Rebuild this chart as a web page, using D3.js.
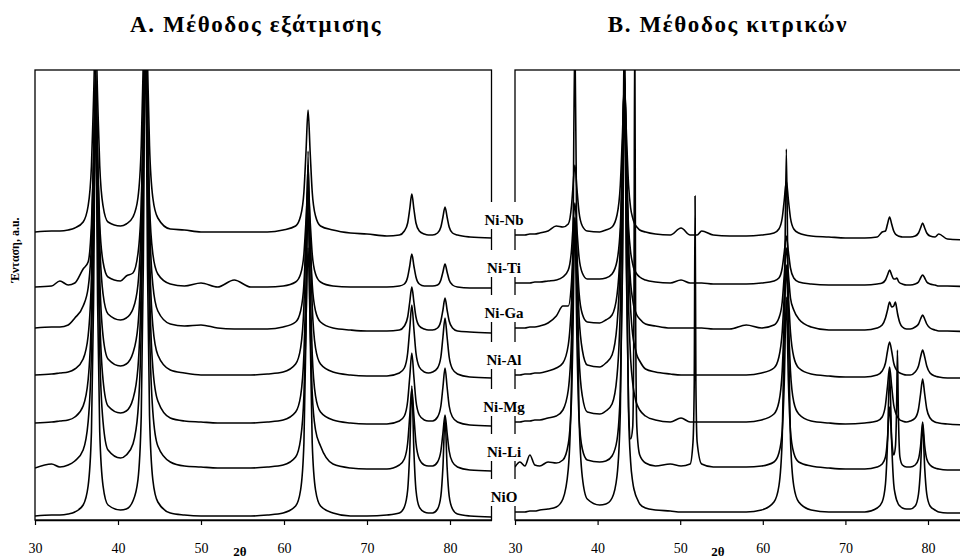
<!DOCTYPE html>
<html lang="el">
<head>
  <meta charset="UTF-8">
  <title>XRD</title>
  <script src="https://cdn.jsdelivr.net/npm/d3@7"></script>
  <style>
    body { margin: 0; background: #fff; }
    svg { display: block; font-family: "Liberation Serif", "Times New Roman", serif; }
  </style>
</head>
<body>
<script>
  // sample names, top to bottom
  const samples = ['Ni-Nb', 'Ni-Ti', 'Ni-Ga', 'Ni-Al', 'Ni-Mg', 'Ni-Li', 'NiO']
  const xTicks = [30, 40, 50, 60, 70, 80]
  const panelTitles = ['A. Μέθοδος εξάτμισης', 'B. Μέθοδος κιτρικών']

  // vertical offsets of each pattern (a.u.)
  const offsetsA = [288, 233, 192, 145, 97, 52, 4]
  const offsetsB = [285, 237, 192, 145, 98, 53, 8]

  // A: evaporation method, 2theta positions
  const thetaA = [30,32,33,34,34.8,35.8,36.4,36.8,37.05,37.3,
    37.55,37.8,38.2,38.8,40.3,41,41.8,42.4,42.8,43.05,
    43.3,43.55,43.8,44.2,44.8,46.3,48,50,52,54,
    56,58,59.9,61.4,62,62.4,62.65,62.9,63.15,63.4,
    63.8,64.4,65.9,68,70,72.4,73.9,74.5,74.9,75.15,
    75.4,75.65,75.9,76.3,76.9,77.4,77.9,78.5,78.9,79.15,
    79.4,79.65,79.9,80.3,80.9,82.4,85]

  const nbA = [0,1,1,2,4,10,26,66,132,200,
    132,66,26,10,6,8,15,34,86,172,
    260,172,86,34,14,3,2,0,0,0,
    0,0,2,6,16,40,80,122,80,40,
    16,6,2,-1,-2,-4,-3,1,9,23,
    38,23,9,1,-2,-3,-3,-1,5,15,
    25,15,5,-1,-3,-5,-6]
  const tiA = [0,1,6,2,4,18,25,63,125,190,
    125,63,25,10,6,11,14,33,83,165,
    250,165,83,33,13,3,1,4,0,7,
    0,0,1,5,13,33,66,100,66,33,
    13,5,1,0,0,0,1,3,10,21,
    33,21,10,3,1,1,1,2,7,15,
    23,15,7,2,0,-1,-1]
  const gaA = [0,1,1,3,10,22,40,86,172,260,
    172,86,34,14,8,10,19,43,109,218,
    330,218,109,43,17,4,2,3,0,-1,
    -1,-1,1,6,17,44,88,134,88,44,
    17,6,0,-2,-3,-3,-2,2,11,26,
    41,26,11,2,-1,-2,-2,0,7,18,
    30,18,7,0,-3,-4,-5]
  const alA = [0,1,2,3,6,16,39,99,198,300,
    198,99,39,16,9,11,22,49,125,251,
    380,251,125,49,20,5,2,0,0,0,
    0,1,3,11,27,69,139,210,139,69,
    27,11,3,0,-1,-1,2,7,22,46,
    70,46,22,8,3,2,3,7,18,38,
    57,38,18,6,1,-2,-3]
  const mgA = [0,1,2,3,6,17,43,109,218,330,
    218,109,43,17,10,12,24,55,139,277,
    420,277,139,55,22,5,2,1,0,0,
    0,1,3,11,27,69,139,210,139,69,
    27,11,3,0,-1,-1,2,7,22,46,
    70,46,22,8,3,2,2,6,17,36,
    55,36,17,6,1,-2,-3]
  const liA = [0,4,1,3,7,18,46,116,231,350,
    231,116,46,18,10,13,24,56,142,284,
    430,284,142,56,22,6,2,1,0,0,
    0,1,3,11,29,73,145,220,145,75,
    38,22,4,0,-1,-1,3,9,25,52,
    79,52,25,9,3,2,2,6,17,35,
    53,35,17,6,1,-2,-3]
  const nioA = [0,1,1,2,4,11,30,84,210,420,
    210,84,30,11,6,7,15,36,100,250,
    500,250,100,36,14,3,1,0,0,0,
    0,1,3,10,26,73,183,365,183,73,
    26,10,3,0,0,1,3,9,26,65,
    130,65,26,9,4,3,3,7,20,49,
    98,49,20,7,2,0,-1]

  // B: citrate method, 2theta positions
  const thetaB = [30,30.6,31.2,31.8,32.4,33,34,35,35.8,36.45,
    36.85,37,37.25,37.5,37.75,38.15,38.75,40.25,41,41.75,
    42.35,42.75,43,43.25,43.5,43.75,44,44.25,44.4,44.5,
    44.6,44.75,45.1,45.8,47,48.8,50.1,51.2,51.55,51.7,
    51.8,51.9,52.05,52.6,54,56,58,59.85,61.35,61.95,
    62.35,62.6,62.85,63.1,63.35,63.75,64.35,65.85,68,70,
    72.35,73.85,74.45,74.85,75.1,75.35,75.6,75.85,76.05,76.2,
    76.3,76.4,76.6,76.9,77.4,77.85,78.45,78.85,79.1,79.35,
    79.6,79.85,80.25,80.85,81.3,82.35,85]

  const nbB = [0,0,0,1,1,2,4,9,8,11,
    30,46,70,46,23,9,4,3,5,8,
    20,50,99,150,99,50,27,17,13,11,
    9.5,8,5,3,1,0,7,0,0,0,
    0,0,0,4,0,-1,-1,0,2,6,
    17,35,54,35,17,6,2,-1,-2,-3,
    -3,-2,3,4,11,18,11,4,1,0,
    -0.5,-1,-1.5,-2,-2,-2,-1,2,7,12,
    7,2,-1,-2,1,-4,-5]
  const tiB = [0,0,0,0,1,1,2,3,6,13,
    34,53,80,53,26,10,4,4,5,9,
    22,56,112,170,112,56,31,19,14,12,
    11,9,6,3,1,0,3,0,0,0,
    0,0,0,0,-1,-1,-1,0,2,5,
    15,31,47,31,15,5,1,-1,-2,-2,
    -2,-1,0,3,8,13,8,4,4,5,
    4,2,0,-1,-2,-2,-1,1,5,8,
    5,1,-1,-2,-3,-3,-4]
  const gaB = [0,0,0,1,1,2,5,12,22,22,
    47,73,110,73,36,14,6,5,8,13,
    33,83,165,250,165,83,45,28,21,18,
    16,13,9,4,2,0,0,0,0,0,
    0,0,0,0,-1,-1,3,0,3,10,
    26,53,80,54,30,18,9,1,-2,-2,
    -2,0,3,10,18,26,21,22,26,20,
    15,11,5,1,-1,-1,1,4,9,13,
    9,4,0,-2,-3,-3,-4]
  const alB = [0,0,1,1,2,2,4,7,12,30,
    75,108,150,108,59,25,10,8,12,20,
    50,117,216,300,216,117,66,40,32,28,
    25,20,14,6,3,1,0,0,0,0,
    0,0,0,0,0,0,0,2,7,18,
    43,79,110,79,43,18,7,1,-1,-2,
    -2,0,4,12,24,33,24,12,7,5,
    4,3,2,1,0,0,3,9,18,25,
    18,9,2,-1,-2,-3,-3]
  const mgB = [0,0,1,1,2,2,4,6,12,32,
    86,132,200,132,66,26,10,8,11,18,
    46,116,231,350,231,116,63,39,30,26,
    22,18,12,6,2,0,4,0,0,0,
    0,0,0,0,0,0,0,2,8,20,
    51,102,155,102,51,20,8,1,-1,-2,
    -1,1,5,17,36,55,36,17,10,7,
    5,4,2,1,0,1,4,13,28,43,
    28,13,4,0,-1,-2,-3]
  const liB = [0,5,1,12,2,1,5,4,7,23,
    70,125,250,125,50,18,7,5,6,11,
    27,76,190,380,190,60,28,40,160,450,
    160,40,12,4,1,3,1,3,25,84,
    271,84,25,3,0,0,0,1,5,14,
    36,85,170,85,36,14,5,1,-1,-2,
    -2,0,3,10,28,60,28,12,20,60,
    117,60,10,2,0,0,2,8,21,45,
    21,8,2,-1,-2,-3,-3]
  const nioB = [0,0,0,1,1,2,3,5,13,43,
    134,240,480,240,96,35,13,7,8,14,
    36,100,250,500,250,100,50,30,23,20,
    17,14,8,4,2,1,0,0,0,0,
    0,0,0,0,0,0,0,2,10,26,
    73,182,363,182,73,26,10,2,0,0,
    0,4,10,28,70,140,70,28,17,12,
    10,8,6,4,3,3,6,18,44,88,
    44,18,6,2,0,-1,-1]

  const seriesA = [nbA, tiA, gaA, alA, mgA, liA, nioA]
  const seriesB = [nbB, tiB, gaB, alB, mgB, liB, nioB]

  const W = 960, H = 558
  const svg = d3.select('body').append('svg')
    .attr('width', W)
    .attr('height', H)

  const plotTop = 70, plotBottom = 520
  const y = d3.scaleLinear().domain([0, 450]).range([plotBottom, plotTop])

  const panels = [
    { id: 'A', x: d3.scaleLinear().domain([30, 85]).range([35, 491.5]), theta: thetaA, series: seriesA, offsets: offsetsA, title: panelTitles[0], titleX: 256, labelX: 240 },
    { id: 'B', x: d3.scaleLinear().domain([30, 85]).range([515, 969.3]), theta: thetaB, series: seriesB, offsets: offsetsB, title: panelTitles[1], titleX: 728, labelX: 718 }
  ]

  const defs = svg.append('defs')

  panels.forEach(p => {
    const [x0, x1] = p.x.range()

    defs.append('clipPath').attr('id', 'clip' + p.id)
      .append('rect')
      .attr('x', x0).attr('y', plotTop)
      .attr('width', x1 - x0).attr('height', plotBottom - plotTop)

    // frame
    svg.append('rect')
      .attr('x', x0).attr('y', plotTop)
      .attr('width', x1 - x0).attr('height', plotBottom - plotTop)
      .attr('fill', 'none')
      .attr('stroke', '#000')
      .attr('stroke-width', 1.3)

    // x axis
    const axis = d3.axisBottom(p.x)
      .tickValues(xTicks)
      .tickSize(5)
      .tickSizeOuter(0)
      .tickPadding(18)
      .tickFormat(d3.format('d'))

    const g = svg.append('g')
      .attr('transform', `translate(0,${plotBottom})`)
      .call(axis)
    g.attr('font-family', null).attr('font-size', null)
    g.select('.domain').attr('stroke-width', 1.3)
    g.selectAll('.tick line').attr('stroke-width', 1.2)
    g.selectAll('.tick text').attr('font-size', 14).attr('fill', '#000')

    // patterns
    const line = d3.line()
      .x(d => p.x(d[0]))
      .y(d => y(d[1]))
      .curve(d3.curveMonotoneX)

    svg.append('g')
      .attr('clip-path', `url(#clip${p.id})`)
      .selectAll('path')
      .data(p.series)
      .join('path')
      .attr('d', (s, i) => line(p.theta.map((t, j) => [t, p.offsets[i] + s[j]])))
      .attr('fill', 'none')
      .attr('stroke', '#000')
      .attr('stroke-width', 1.6)
      .attr('stroke-linejoin', 'round')

    // panel title
    svg.append('text')
      .attr('x', p.titleX).attr('y', 32)
      .attr('text-anchor', 'middle')
      .attr('font-size', 23)
      .attr('letter-spacing', 1.6)
      .attr('font-weight', 'bold')
      .text(p.title)

    // 2theta label
    svg.append('text')
      .attr('x', p.labelX).attr('y', 556)
      .attr('text-anchor', 'middle')
      .attr('font-size', 13)
      .attr('font-weight', 'bold')
      .text('2θ')
  })

  // sample labels between the panels
  const lab = svg.append('g')
    .selectAll('g')
    .data(samples)
    .join('g')
    .attr('transform', (d, i) => `translate(504,${y(offsetsB[i]) - 15})`)

  lab.append('rect')
    .attr('x', -17.5).attr('y', -18)
    .attr('width', 35).attr('height', 27)
    .attr('fill', '#fff')

  lab.append('text')
    .attr('y', 5)
    .attr('text-anchor', 'middle')
    .attr('font-size', 15)
    .attr('font-weight', 'bold')
    .text(d => d)

  // y axis title
  svg.append('text')
    .attr('transform', 'translate(19,250) rotate(-90)')
    .attr('text-anchor', 'middle')
    .attr('font-size', 12)
    .attr('font-weight', 'bold')
    .text('Ένταση, a.u.')
</script>
</body>
</html>
